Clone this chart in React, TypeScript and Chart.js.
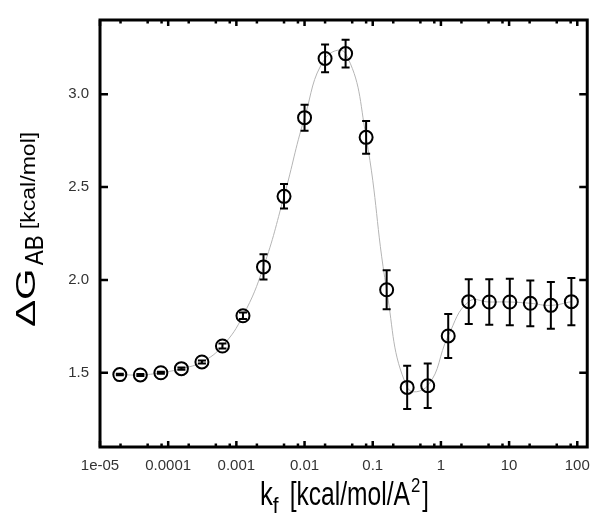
import React, { useEffect, useRef } from "react";
import { Chart, registerables } from "chart.js";

Chart.register(...registerables);

// ---- data ----
const kf = [
  1.953e-5, 3.906e-5, 7.813e-5, 1.5625e-4, 3.125e-4, 6.25e-4, 1.25e-3, 2.5e-3,
  5e-3, 0.01, 0.02, 0.04, 0.08, 0.16, 0.32, 0.64, 1.28, 2.56, 5.12, 10.24,
  20.48, 40.96, 81.92,
];
const dG = [
  1.49, 1.488, 1.5, 1.522, 1.558, 1.644, 1.807, 2.07, 2.45, 2.874, 3.193,
  3.219, 2.768, 1.947, 1.421, 1.43, 1.698, 1.883, 1.881, 1.881, 1.874, 1.863,
  1.883,
];
const dGErr = [
  0.004, 0.005, 0.005, 0.006, 0.008, 0.013, 0.018, 0.068, 0.066, 0.07, 0.075,
  0.075, 0.088, 0.105, 0.116, 0.12, 0.118, 0.121, 0.122, 0.125, 0.123, 0.126,
  0.127,
];
const xTickValues = [1e-5, 1e-4, 1e-3, 0.01, 0.1, 1, 10, 100];
const xTickLabels = ["1e-05", "0.0001", "0.001", "0.01", "0.1", "1", "10", "100"];
const xMinorFactors = [2, 5, 8];
const yTickValues = [1.5, 2.0, 2.5, 3.0];
const yTickLabels = ["1.5", "2.0", "2.5", "3.0"];

const FONT = '"Liberation Sans", Arial, Helvetica, sans-serif';

type Seg = { text: string; size: number; dy: number; sx: number; dx?: number };

function drawRun(ctx: CanvasRenderingContext2D, x0: number, y0: number, angle: number, segs: Seg[]) {
  ctx.save();
  ctx.translate(x0, y0);
  ctx.rotate(angle);
  ctx.fillStyle = "#000";
  ctx.textBaseline = "alphabetic";
  ctx.textAlign = "left";
  let cx = 0;
  for (const s of segs) {
    cx += s.dx || 0;
    ctx.font = `${s.size}px ${FONT}`;
    const w = ctx.measureText(s.text).width;
    ctx.save();
    ctx.translate(cx, s.dy);
    ctx.scale(s.sx, 1);
    ctx.fillText(s.text, 0, 0);
    ctx.restore();
    cx += w * s.sx;
  }
  ctx.restore();
}

const decorPlugin = {
  id: "decor",
  afterDatasetDraw(chart: any, args: any) {
    if (args.index !== 0) return;
    const { ctx } = chart;
    const x = chart.scales.x;
    const y = chart.scales.y;
    ctx.save();
    ctx.strokeStyle = "#000";
    ctx.lineWidth = 2;
    kf.forEach((k, i) => {
      const px = x.getPixelForValue(k);
      const top = y.getPixelForValue(dG[i] + dGErr[i]);
      const bot = y.getPixelForValue(dG[i] - dGErr[i]);
      ctx.beginPath();
      ctx.moveTo(px, top);
      ctx.lineTo(px, bot);
      ctx.moveTo(px - 4, top);
      ctx.lineTo(px + 4, top);
      ctx.moveTo(px - 4, bot);
      ctx.lineTo(px + 4, bot);
      ctx.stroke();
    });
    ctx.restore();
  },
  afterDraw(chart: any) {
    const { ctx, chartArea } = chart;
    const { left, right, top, bottom } = chartArea;
    const x = chart.scales.x;
    const y = chart.scales.y;
    ctx.save();
    ctx.strokeStyle = "#000";
    // ticks
    ctx.lineWidth = 2.5;
    ctx.beginPath();
    xTickValues.forEach((v) => {
      const px = x.getPixelForValue(v);
      ctx.moveTo(px, bottom);
      ctx.lineTo(px, bottom - 6);
      ctx.moveTo(px, top);
      ctx.lineTo(px, top + 6);
      xMinorFactors.forEach((f) => {
        const mv = v * f;
        if (mv > x.max) return;
        const mp = x.getPixelForValue(mv);
        ctx.moveTo(mp, bottom);
        ctx.lineTo(mp, bottom - 3.5);
        ctx.moveTo(mp, top);
        ctx.lineTo(mp, top + 3.5);
      });
    });
    yTickValues.forEach((v) => {
      const py = y.getPixelForValue(v);
      ctx.moveTo(left, py);
      ctx.lineTo(left + 8, py);
      ctx.moveTo(right, py);
      ctx.lineTo(right - 8, py);
    });
    ctx.stroke();
    // frame
    ctx.lineWidth = 3;
    ctx.strokeRect(left, top, right - left, bottom - top);
    ctx.restore();

    // axis titles
    drawRun(ctx, 260, 505, 0, [
      { text: "k", size: 33, dy: 0, sx: 0.78 },
      { text: "f", size: 22, dy: 8, sx: 0.95 },
      { text: "[kcal/mol/A", size: 33, dy: 0, sx: 0.745, dx: 11 },
      { text: "2", size: 21, dy: -13, sx: 0.8, dx: 1 },
      { text: "]", size: 33, dy: 0, sx: 0.72, dx: 2 },
    ]);
    drawRun(ctx, 35, 327, -Math.PI / 2, [
      { text: "ΔG", size: 28, dy: 0, sx: 1.45 },
      { text: "AB", size: 25, dy: 8, sx: 0.9, dx: 3 },
      { text: "[kcal/mol]", size: 21, dy: 0, sx: 1.1, dx: 6 },
    ]);
  },
};

export default function App() {
  const ref = useRef<HTMLCanvasElement | null>(null);

  useEffect(() => {
    if (!ref.current) return;
    const points = kf.map((k, i) => ({ x: k, y: dG[i] }));
    const chart = new Chart(ref.current, {
      type: "line",
      data: {
        datasets: [
          {
            data: points,
            borderColor: "#b5b5b5",
            borderWidth: 1,
            tension: 0.45,
            pointRadius: 0,
            fill: false,
            order: 1,
          },
          {
            data: points,
            showLine: false,
            pointRadius: 6.5,
            pointHoverRadius: 6.5,
            pointBorderWidth: 2,
            pointBorderColor: "#000",
            pointBackgroundColor: "rgba(0,0,0,0)",
            borderColor: "#000",
            order: 0,
          },
        ],
      } as any,
      options: {
        animation: false,
        responsive: false,
        devicePixelRatio: 1,
        events: [],
        layout: { padding: { top: 10, right: 10, left: 0, bottom: 0 } },
        plugins: { legend: { display: false }, tooltip: { enabled: false } },
        scales: {
          x: {
            type: "logarithmic",
            min: 1e-5,
            max: 140,
            grid: { display: false, drawTicks: false },
            border: { display: false },
            afterBuildTicks: (scale: any) => {
              scale.ticks = xTickValues.map((v) => ({ value: v }));
            },
            afterFit: (scale: any) => {
              scale.height = 85;
            },
            ticks: {
              autoSkip: false,
              maxRotation: 0,
              padding: 10,
              color: "#333",
              font: { family: FONT, size: 15 },
              callback: (_v: any, i: number) => xTickLabels[i],
            },
          },
          y: {
            type: "linear",
            min: 1.1,
            max: 3.4,
            grid: { display: false, drawTicks: false },
            border: { display: false },
            afterBuildTicks: (scale: any) => {
              scale.ticks = yTickValues.map((v) => ({ value: v }));
            },
            afterFit: (scale: any) => {
              scale.width = 100;
            },
            ticks: {
              autoSkip: false,
              padding: 11,
              color: "#333",
              font: { family: FONT, size: 15 },
              callback: (_v: any, i: number) => yTickLabels[i],
            },
          },
        },
      } as any,
      plugins: [decorPlugin],
    });
    return () => chart.destroy();
  }, []);

  return (
    <div style={{ position: "fixed", left: 0, top: 0, width: 600, height: 532, background: "#fff" }}>
      <canvas ref={ref} width={600} height={532} style={{ display: "block", width: 600, height: 532 }} />
    </div>
  );
}
